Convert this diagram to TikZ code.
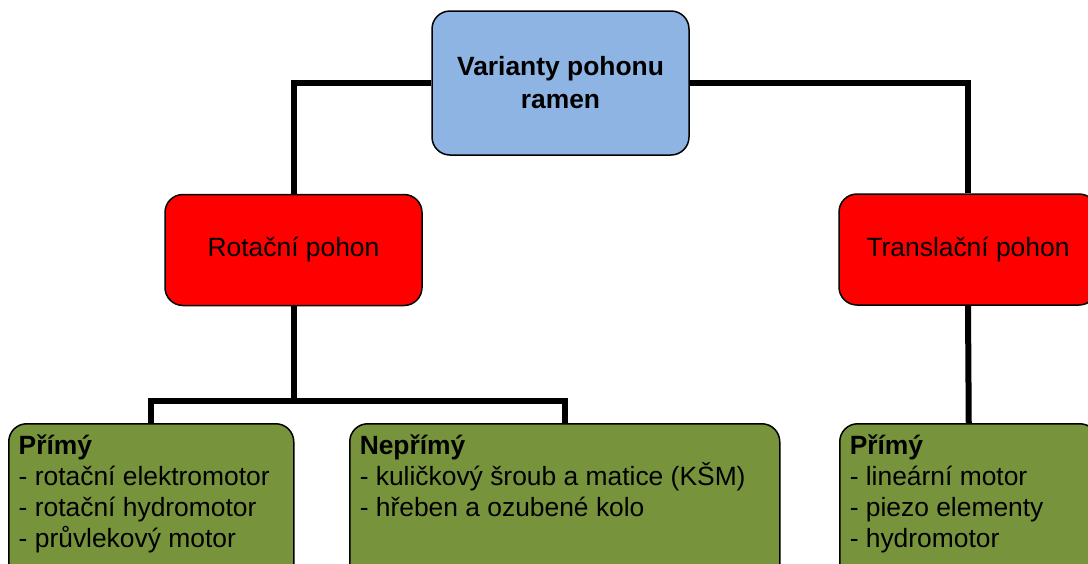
\documentclass[tikz,border=0pt]{standalone}
\usepackage{fontspec}
\setmainfont{Liberation Sans}
\usetikzlibrary{calc}
\definecolor{topblue}{HTML}{8EB4E3}
\definecolor{redfill}{HTML}{FF0000}
\definecolor{greenfill}{HTML}{77933C}
\begin{document}
\begin{tikzpicture}[x=1pt,y=-1pt,
  box/.style={draw=black, line width=1.5pt, rounded corners=18pt, inner sep=0pt,
    font=\fontsize{26.4}{32}\selectfont},
  topbox/.style={box, fill=topblue, minimum width=257pt, minimum height=144pt, align=center,
    font=\fontsize{26.4}{33}\selectfont\bfseries},
  redbox/.style={box, fill=redfill, minimum width=257pt, minimum height=111pt},
  greenbox/.style={box, fill=greenfill, anchor=north west, inner xsep=10pt, inner ysep=11.5pt,
    font=\fontsize{26.4}{31}\selectfont},
  conn/.style={line width=6pt, line join=miter}]
\clip (0,0) rectangle (1088,563);
\node[topbox] (top) at (560.5,83) {Varianty pohonu\\ramen};
\node[redbox] (rot) at (293.5,250) {Rotační pohon};
\node[redbox, minimum width=258pt] (trans) at (968,249.5) {Translační pohon};
\node[greenbox] (p1) at (8,423) {\parbox[t][150pt][t]{265pt}{\raggedright\textbf{Přímý}\\- rotační elektromotor\\- rotační hydromotor\\- průvlekový motor}};
\node[greenbox] (p2) at (349,423) {\parbox[t][150pt][t]{410pt}{\raggedright\textbf{Nepřímý}\\- kuličkový šroub a matice (KŠM)\\- hřeben a ozubené kolo}};
\node[greenbox] (p3) at (839,423) {\parbox[t][150pt][t]{238pt}{\raggedright\textbf{Přímý}\\- lineární motor\\- piezo elementy\\- hydromotor}};
\coordinate (fork) at ($(rot.south)+(0,95)$);
\draw[conn] (top.west) -| (rot.north);
\draw[conn] (top.east) -| (trans.north);
\draw[conn] (rot.south) -- (fork);
\draw[conn] (p1.north) |- (fork) -| (p2.north);
\draw[conn] (trans.south) -- (p3.north);
\end{tikzpicture}
\end{document}
